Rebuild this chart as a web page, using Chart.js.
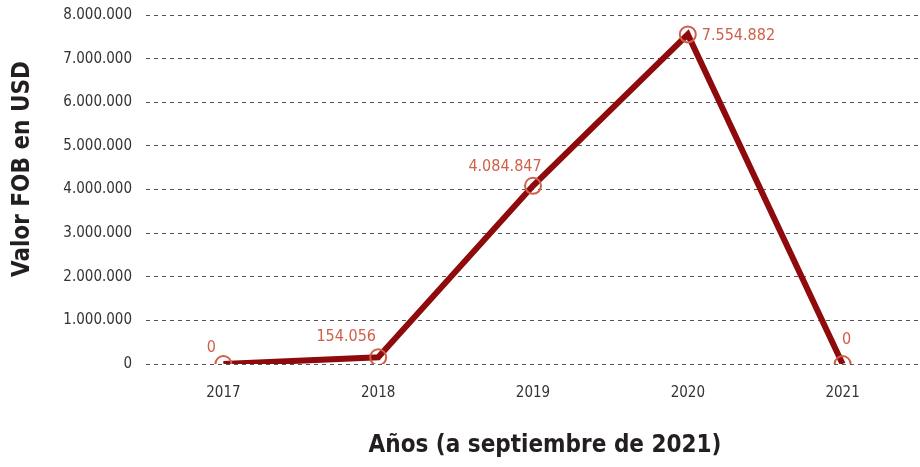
<!DOCTYPE html>
<html>
<head>
<meta charset="utf-8">
<script src="https://cdn.jsdelivr.net/npm/chart.js@4/dist/chart.umd.min.js"></script>
<style>
  html, body { margin: 0; padding: 0; background: #fff; }
  #wrap { width: 920px; height: 467px; }
</style>
</head>
<body>
<div id="wrap"><canvas id="fobChart"></canvas></div>
<script>
const years = ['2017', '2018', '2019', '2020', '2021'];
const fobValues = [0, 154056, 4084847, 7554882, 0];
const yTicks = [0, 1000000, 2000000, 3000000, 4000000, 5000000, 6000000, 7000000, 8000000];

const FONT = "'Liberation Sans Narrow', 'DejaVu Sans Condensed', 'Roboto', sans-serif";
const fmt = v => v.toLocaleString('de-DE');

// value labels next to each point
const labelOffsets = [
    { dx: -12, dy: -16, align: 'center' },
    { dx: -32, dy: -20, align: 'center' },
    { dx: -28, dy: -19, align: 'center' },
    { dx: 14, dy: 1, align: 'left' },
    { dx: 4, dy: -24, align: 'center' }
];

const valueLabels = {
    id: 'valueLabels',
    afterDatasetsDraw(chart) {
        const ctx = chart.ctx;
        const meta = chart.getDatasetMeta(0);
        ctx.save();
        ctx.font = '16px ' + FONT;
        ctx.fillStyle = '#d0604a';
        ctx.textBaseline = 'middle';
        meta.data.forEach((pt, i) => {
            const o = labelOffsets[i];
            ctx.textAlign = o.align;
            ctx.fillText(fmt(fobValues[i]), pt.x + o.dx, pt.y + o.dy);
        });
        ctx.restore();
    }
};

// axis titles drawn by hand, they sit off-centre in the original
const axisTitles = {
    id: 'axisTitles',
    afterDraw(chart) {
        const ctx = chart.ctx;
        ctx.save();
        ctx.font = 'bold 24px ' + FONT;
        ctx.fillStyle = '#231f20';
        ctx.textAlign = 'center';
        ctx.textBaseline = 'middle';
        ctx.fillText('Años (a septiembre de 2021)', 545, 446);
        ctx.translate(23, 169);
        ctx.rotate(-Math.PI / 2);
        ctx.fillText('Valor FOB en USD', 0, 0);
        ctx.restore();
    }
};

const ctx = document.getElementById('fobChart').getContext('2d');
new Chart(ctx, {
    type: 'line',
    data: {
        labels: years,
        datasets: [{
            data: fobValues,
            borderColor: '#8e0a0c',
            borderWidth: 6,
            tension: 0,
            pointRadius: 8,
            pointBorderWidth: 2,
            pointBorderColor: '#d0604a',
            pointBackgroundColor: 'rgba(0,0,0,0)',
            pointHoverRadius: 8
        }]
    },
    options: {
        responsive: true,
        maintainAspectRatio: false,
        animation: false,
        layout: { autoPadding: false, padding: { top: 15, right: 0, left: 0, bottom: 0 } },
        plugins: {
            legend: { display: false },
            tooltip: { enabled: false }
        },
        scales: {
            x: {
                offset: true,
                grid: { display: false, drawTicks: false },
                border: { display: false },
                ticks: {
                    color: '#333',
                    font: { family: FONT, size: 15 },
                    padding: 20
                },
                afterFit: scale => {
                    scale.height = 103;
                    scale.paddingLeft = 0;
                    scale.paddingRight = 0;
                }
            },
            y: {
                min: 0,
                max: 8000000,
                afterBuildTicks: scale => { scale.ticks = yTicks.map(v => ({ value: v })); },
                grid: {
                    color: '#555',
                    lineWidth: 1,
                    drawTicks: false
                },
                border: { display: false, dash: [4, 4] },
                ticks: {
                    color: '#333',
                    font: { family: FONT, size: 15 },
                    padding: 14,
                    callback: value => fmt(value)
                },
                afterFit: scale => {
                    scale.width = 146;
                    scale.paddingTop = 0;
                    scale.paddingBottom = 0;
                }
            }
        }
    },
    plugins: [valueLabels, axisTitles]
});
</script>
</body>
</html>
